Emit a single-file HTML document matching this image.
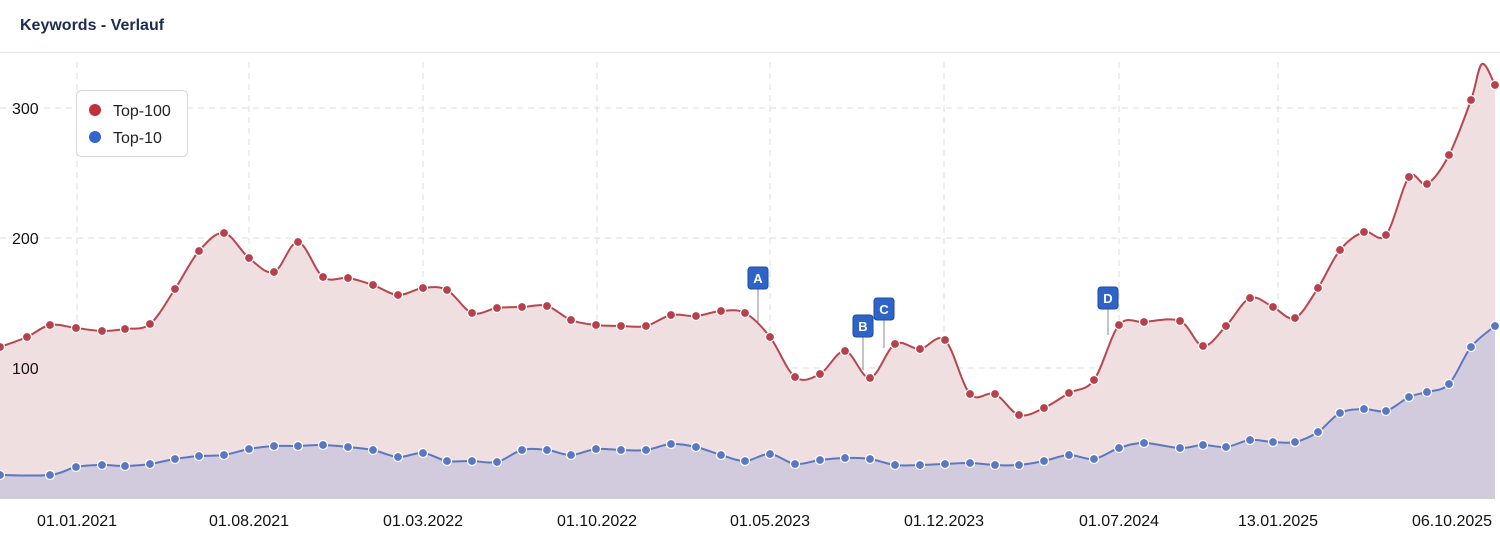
<!DOCTYPE html>
<html><head><meta charset="utf-8"><style>
html,body{margin:0;padding:0;background:#fff;width:1500px;height:537px;overflow:hidden;font-family:"Liberation Sans",sans-serif}
</style></head><body>
<svg id="s" width="1500" height="537" xmlns="http://www.w3.org/2000/svg" font-family="Liberation Sans, sans-serif">
<text x="20" y="30" font-size="16" font-weight="bold" fill="#1b2c4f">Keywords - Verlauf</text>
<line x1="0" y1="52.5" x2="1500" y2="52.5" stroke="#e6e6e6"/>
<g stroke="#dcdcdc" stroke-dasharray="6,5" stroke-width="1">
<line x1="0" y1="108" x2="1495" y2="108"/><line x1="0" y1="238" x2="1495" y2="238"/><line x1="0" y1="368" x2="1495" y2="368"/>
<line x1="77" y1="62" x2="77" y2="498"/><line x1="249" y1="62" x2="249" y2="498"/><line x1="423" y1="62" x2="423" y2="498"/><line x1="597" y1="62" x2="597" y2="498"/><line x1="770" y1="62" x2="770" y2="498"/><line x1="944" y1="62" x2="944" y2="498"/><line x1="1119" y1="62" x2="1119" y2="498"/><line x1="1278" y1="62" x2="1278" y2="498"/>
</g>
<g id="series"></g>
<line x1="0" y1="498.5" x2="1495" y2="498.5" stroke="#d0d0d8"/>
<g font-size="16" fill="#111">
<rect x="8" y="96" width="36" height="22" fill="#fff" opacity="0"/>
<text x="12" y="114">300</text><text x="12" y="244">200</text><text x="12" y="374">100</text>
</g>
<g font-size="16" fill="#111" text-anchor="middle">
<text x="77" y="526">01.01.2021</text><text x="249" y="526">01.08.2021</text><text x="423" y="526">01.03.2022</text><text x="597" y="526">01.10.2022</text><text x="770" y="526">01.05.2023</text><text x="944" y="526">01.12.2023</text><text x="1119" y="526">01.07.2024</text><text x="1278" y="526">13.01.2025</text><text x="1452" y="526">06.10.2025</text>
</g>
<g id="flags"></g>
<rect x="76.5" y="90.5" width="111" height="66" rx="5" fill="#fff" stroke="#d8d8d8"/>
<circle cx="95" cy="110" r="6" fill="#c0303a"/><text x="113" y="116" font-size="16" fill="#222">Top-100</text>
<circle cx="95" cy="137" r="6" fill="#3366cc"/><text x="113" y="143" font-size="16" fill="#222">Top-10</text>
</svg>
<script>
var R=[[0,347],[27,337],[50,325],[76,328],[102,331],[125,329],[150,324],[175,289],[199,251],[224,233],[249,258],[274,272],[298,242],[323,277],[348,278],[373,285],[398,295],[423,288],[447,290],[472,313],[497,308],[522,307],[547,306],[571,320],[596,325],[621,326],[646,326],[671,315],[696,316],[721,311],[745,313],[770,337],[795,377],[820,374],[845,351],[870,378],[895,344],[920,349],[945,340],[970,394],[995,394],[1019,415],[1044,408],[1069,393],[1094,380],[1119,325],[1144,322],[1180,321],[1203,346],[1226,326],[1250,298],[1273,307],[1295,318],[1318,288],[1340,250],[1364,232],[1386,235],[1409,177],[1427,184],[1449,155],[1471,100],[1482,64],[1495,85]];
var B=[[0,475],[50,475],[76,467],[102,465],[125,466],[150,464],[175,459],[199,456],[224,455],[249,449],[274,446],[298,446],[323,445],[348,447],[373,450],[398,457],[423,453],[447,461],[472,461],[497,462],[522,450],[547,450],[571,455],[596,449],[621,450],[646,450],[671,444],[696,447],[721,455],[745,461],[770,454],[795,464],[820,460],[845,458],[870,459],[895,465],[920,465],[945,464],[970,463],[995,465],[1019,465],[1044,461],[1069,455],[1094,459],[1119,448],[1144,443],[1180,448],[1203,445],[1226,447],[1250,440],[1273,442],[1295,442],[1318,432],[1340,413],[1364,409],[1386,411],[1409,397],[1427,392],[1449,384],[1471,347],[1495,326]];
function path(p){var d="M"+p[0][0]+","+p[0][1];for(var i=0;i<p.length-1;i++){var a=p[Math.max(0,i-1)],b=p[i],c=p[i+1],e=p[Math.min(p.length-1,i+2)];var t=6;d+=" C"+(b[0]+(c[0]-a[0])/t).toFixed(1)+","+(b[1]+(c[1]-a[1])/t).toFixed(1)+" "+(c[0]-(e[0]-b[0])/t).toFixed(1)+","+(c[1]-(e[1]-b[1])/t).toFixed(1)+" "+c[0]+","+c[1];}return d;}
var g=document.getElementById("series"),h="";
var pr=path(R),pb=path(B);
h+='<path d="'+pr+' L1495,498 L0,498Z" fill="#f0dfe1"/>';
h+='<path d="'+pb+' L1495,498 L0,498Z" fill="#d2cadd"/>';
h+='<path d="'+pr+'" fill="none" stroke="#b8464e" stroke-width="2"/>';
h+='<path d="'+pb+'" fill="none" stroke="#5a78c2" stroke-width="2"/>';
R.forEach(function(p){if(p[0]==1482)return;h+='<circle cx="'+p[0]+'" cy="'+p[1]+'" r="4.5" fill="#b8404a" stroke="#fff" stroke-width="1.2"/>';});
B.forEach(function(p){h+='<circle cx="'+p[0]+'" cy="'+p[1]+'" r="4.5" fill="#5a78c2" stroke="#fff" stroke-width="1.2"/>';});
g.innerHTML=h;
var F=[["A",758,267,323],["B",863,315,370],["C",884,298,348],["D",1108,287,335]],f="";
F.forEach(function(a){f+='<line x1="'+a[1]+'" y1="'+(a[2]+22)+'" x2="'+a[1]+'" y2="'+a[3]+'" stroke="#888"/><rect x="'+(a[1]-10)+'" y="'+a[2]+'" width="20" height="22" rx="3" fill="#2e64c8" stroke="#1d4a9e"/><text x="'+a[1]+'" y="'+(a[2]+16)+'" font-size="13" font-weight="bold" fill="#fff" text-anchor="middle">'+a[0]+'</text>';});
document.getElementById("flags").innerHTML=f;
</script>
</body></html>
